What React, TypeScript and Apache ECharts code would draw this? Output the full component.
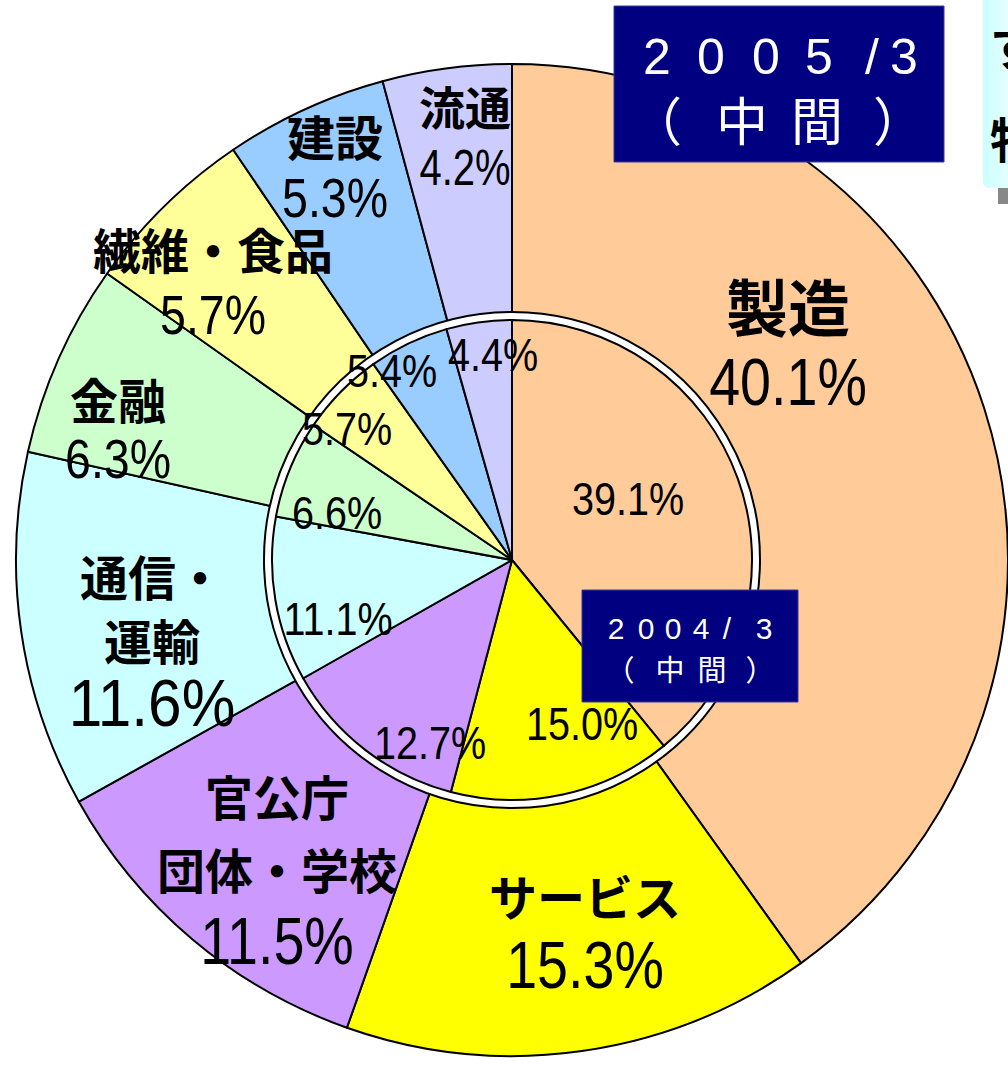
import React, { useEffect, useRef } from "react";
import * as echarts from "echarts";

// ---- data ----
const categories = ["製造", "サービス", "官公庁\n団体・学校", "通信・\n運輸", "金融", "繊維・食品", "建設", "流通"];
const values2005 = [40.1, 15.3, 11.5, 11.6, 6.3, 5.7, 5.3, 4.2];
const values2004 = [39.1, 15.0, 12.7, 11.1, 6.6, 5.7, 5.4, 4.4];
const colors = ["#FFCC99", "#FFFF00", "#CC99FF", "#CCFFFF", "#CCFFCC", "#FFFF99", "#99CCFF", "#CCCCFF"];
const outerTitleDigits = ["2", "0", "0", "5", "/", "3"];
const outerTitleWord = ["（", "中", "間", "）"];
const innerTitleDigits = ["2", "0", "0", "4", "/", "3"];
const innerTitleWord = ["（", "中", "間", "）"];
const sideTexts = ["す", "特"];

// ---- layout / style (not data) ----
const LAT = "'Liberation Sans', Arial, sans-serif";
const CJK = "'Noto Sans CJK JP', 'Noto Sans CJK SC', sans-serif";
const CX = 512;
const CY = 560;
const outerLabelPos = [[788, 343], [585, 930], [277, 868], [152, 639], [118, 428], [213, 281], [335, 166], [465, 136]];
const outerLineH = [77, 70, 73, 64, 60, 67, 63, 63];
const outerNameSize = [62, 48, 48, 48, 48, 48, 48, 46];
const outerValueSize = [67, 67, 67, 67, 56, 56, 56, 50];
const outerValueScale = [0.83, 0.83, 0.83, 0.9, 0.83, 0.83, 0.83, 0.8];
const innerLabelPos = [[628, 499], [582, 724], [430, 743], [338, 619], [337, 513], [347, 429], [392, 371], [493, 355]];
const innerValueSize = 46;
const innerValueScale = 0.86;
const outerTitleDigitX = [657, 711, 766, 819, 872, 904];
const outerTitleWordX = [656, 742, 817, 899];
const innerTitleDigitX = [616, 646, 673, 701, 727, 764];
const innerTitleWordX = [620, 670, 712, 760];

export default function App() {
  const ref = useRef<HTMLDivElement>(null);
  useEffect(() => {
    if (!ref.current) return;
    const chart = echarts.init(ref.current, null, { renderer: "svg" });

    const outerData = values2005.map((v, i) => ({
      value: v,
      name: categories[i],
      itemStyle: { color: colors[i] },
    }));
    const innerData = values2004.map((v, i) => ({
      value: v,
      name: categories[i],
      itemStyle: { color: colors[i] },
    }));

    const pct = (v: number) => `${v.toFixed(1)}%`;

    // outer labels: name lines (bold CJK) + value line (condensed Latin)
    const outerLabels: any[] = [];
    categories.forEach((name, i) => {
      const lines = name.split("\n");
      const n = lines.length + 1;
      const L = outerLineH[i];
      const [x, cy] = outerLabelPos[i];
      const first = cy - ((n - 1) * L) / 2;
      lines.forEach((s, j) => {
        outerLabels.push({
          type: "text",
          z: 50,
          x,
          y: first + j * L,
          style: {
            text: s,
            fill: "#000",
            font: `bold ${outerNameSize[i]}px ${CJK}`,
            align: "center",
            verticalAlign: "middle",
          },
        });
      });
      outerLabels.push({
        type: "text",
        z: 50,
        x,
        y: first + lines.length * L,
        scaleX: outerValueScale[i],
        style: {
          text: pct(values2005[i]),
          fill: "#000",
          font: `${outerValueSize[i]}px ${LAT}`,
          align: "center",
          verticalAlign: "middle",
        },
      });
    });

    const innerLabels = values2004.map((v, i) => ({
      type: "text",
      z: 50,
      x: innerLabelPos[i][0],
      y: innerLabelPos[i][1],
      scaleX: innerValueScale,
      style: {
        text: pct(v),
        fill: "#000",
        font: `${innerValueSize}px ${LAT}`,
        align: "center",
        verticalAlign: "middle",
      },
    }));

    const charTexts = (chars: string[], xs: number[], y: number, size: number, font: string) =>
      chars.map((c, i) => ({
        type: "text",
        z: 110,
        x: xs[i],
        y,
        style: {
          text: c,
          fill: "#fff",
          font: `${size}px ${font}`,
          align: "center",
          verticalAlign: "middle",
        },
      }));

    const option: any = {
      animation: false,
      backgroundColor: "#fff",
      series: [
        {
          type: "pie",
          center: [CX, CY],
          radius: [0, 496],
          startAngle: 90,
          clockwise: true,
          silent: true,
          itemStyle: { borderColor: "#000", borderWidth: 2 },
          label: { show: false },
          labelLine: { show: false },
          data: outerData,
        },
        {
          type: "pie",
          center: [CX, CY],
          radius: [0, 248],
          silent: true,
          itemStyle: { color: "#fff", borderColor: "#000", borderWidth: 2 },
          label: { show: false },
          labelLine: { show: false },
          data: [{ value: 1, name: "ring" }],
        },
        {
          type: "pie",
          center: [CX, CY],
          radius: [0, 240],
          startAngle: 90,
          clockwise: true,
          silent: true,
          itemStyle: { borderColor: "#000", borderWidth: 2 },
          label: { show: false },
          labelLine: { show: false },
          data: innerData,
        },
      ],
      graphic: [
        ...outerLabels,
        ...innerLabels,
        // right side partially visible box
        {
          type: "rect",
          z: 100,
          shape: { x: 998, y: 186, width: 20, height: 18 },
          style: { fill: "#888" },
        },
        {
          type: "rect",
          z: 101,
          shape: { x: 983, y: -10, width: 40, height: 198, r: 6 },
          style: {
            fill: new echarts.graphic.LinearGradient(0, 0, 1, 0, [
              { offset: 0, color: "#CCFFFF" },
              { offset: 1, color: "#F0FFFF" },
            ]),
          },
        },
        ...sideTexts.map((t, i) => ({
          type: "text",
          z: 102,
          x: 990,
          y: [44, 137][i],
          style: { text: t, fill: "#000", font: `bold 48px ${CJK}`, align: "left", verticalAlign: "middle" },
        })),
        // 2005/3 box
        {
          type: "rect",
          z: 105,
          shape: { x: 614, y: 6, width: 330, height: 156 },
          style: { fill: "#000080", stroke: "#3a3a9a", lineWidth: 1 },
        },
        ...charTexts(outerTitleDigits, outerTitleDigitX, 57, 50, LAT),
        ...charTexts(outerTitleWord, outerTitleWordX, 118, 52, CJK),
        // 2004/3 box
        {
          type: "rect",
          z: 105,
          shape: { x: 582, y: 590, width: 216, height: 112 },
          style: { fill: "#000080", stroke: "#3a3a9a", lineWidth: 1 },
        },
        ...charTexts(innerTitleDigits, innerTitleDigitX, 628, 30, LAT),
        ...charTexts(innerTitleWord, innerTitleWordX, 668, 29, CJK),
      ],
    };
    chart.setOption(option);
    return () => chart.dispose();
  }, []);
  return (
    <div
      ref={ref}
      style={{ position: "absolute", left: 0, top: 0, width: 1008, height: 1065 }}
    />
  );
}
